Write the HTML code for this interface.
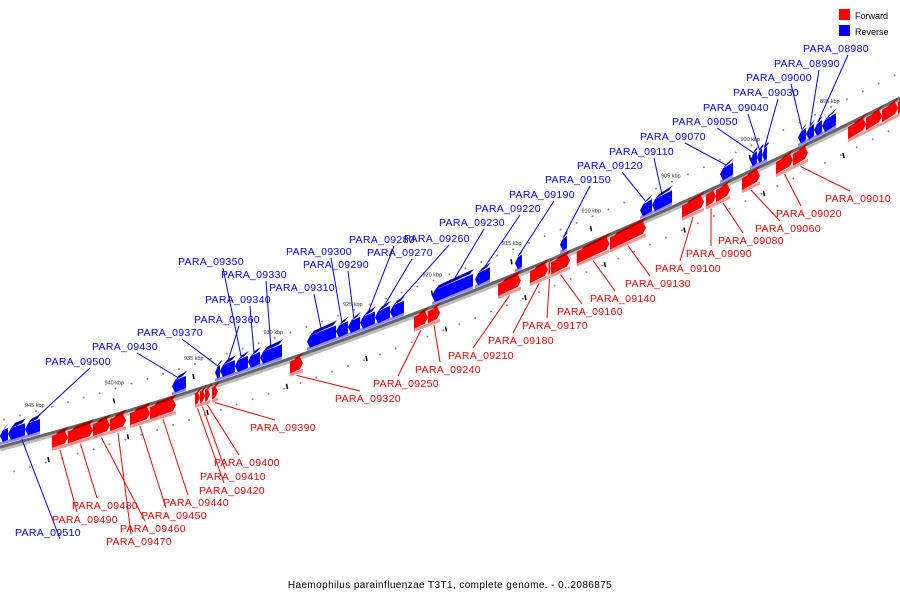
<!DOCTYPE html>
<html><head><meta charset="utf-8"><style>
html,body{margin:0;padding:0;background:#fff;}
svg{display:block;font-family:"Liberation Sans","DejaVu Sans",sans-serif;}
</style></head><body>
<svg id="map" width="900" height="600" viewBox="0 0 900 600">
<g id="ticks"></g>
<path id="backbone-shadow" fill="none" stroke="#bbb" stroke-width="5"/>
<path id="backbone" fill="none" stroke="#666" stroke-width="3"/>
<g id="leaders"></g>
<g id="genes"></g>
<g id="labels"></g>
<g>
<rect x="839" y="9" width="11" height="11" fill="#f00"/>
<text x="855" y="19" font-size="9" fill="#000">Forward</text>
<rect x="839" y="25" width="11" height="11" fill="#00f"/>
<text x="855" y="35" font-size="9" fill="#000">Reverse</text>
</g>
<text x="450" y="588" font-size="10" text-anchor="middle" fill="#000" letter-spacing="0.4">Haemophilus parainfluenzae T3T1, complete genome. - 0..2086875</text>
</svg>
<script>
const geneStart = [947.08,946.57,945.50, 936.26, 933.55,933.24,932.30,931.48,930.72, 927.77,925.94,925.19,924.43,923.49,922.55, 919.91,917.20, 914.69,911.86, 906.82,906.07, 901.79, 899.91,899.47,899.15, 896.89,896.38,895.88,895.38,
 943.81,942.80,941.23,940.16,938.90,937.64, 934.81,934.50,934.18,933.74, 928.84, 921.04,920.16, 915.75, 913.74,912.58,912.42, 910.80,908.71, 904.18,902.67,902.04, 900.41, 898.27,897.20, 893.74,892.61,891.60,890.60];
const geneEnd = [946.57,945.50,944.56, 935.38, 933.24,932.30,931.48,930.72,929.34, 925.94,925.19,924.43,923.49,922.55,921.67, 917.33,916.26, 914.25,911.42, 906.07,904.81, 900.97, 899.47,899.15,898.84, 896.38,895.88,895.38,894.50,
 942.80,941.23,940.16,939.15,937.64,936.01, 934.50,934.18,933.87,933.36, 928.02, 920.16,919.40, 914.31, 912.61,912.45,911.23, 908.74,906.45, 902.80,902.04,901.16, 899.28, 897.20,896.26, 892.61,891.60,890.60,890.10];
const geneStrand = [-1,-1,-1,-1,-1,-1,-1,-1,-1,-1,-1,-1,-1,-1,-1,-1,-1,-1,-1,-1,-1,-1,-1,-1,-1,-1,-1,-1,-1,
 1,1,1,1,1,1,1,1,1,1,1,1,1,1,1,1,1,1,1,1,1,1,1,1,1,1,1,1,1];
const geneLabel = ["","PARA_09510","PARA_09500","PARA_09430","PARA_09370","PARA_09360","PARA_09350","PARA_09340","PARA_09330","PARA_09310","PARA_09300","PARA_09290","PARA_09280","PARA_09270","PARA_09260","PARA_09230","PARA_09220","PARA_09190","PARA_09150","PARA_09120","PARA_09110","PARA_09070","PARA_09050","PARA_09040","PARA_09030","PARA_09000","PARA_08990","PARA_08980","",
 "PARA_09490","PARA_09480","PARA_09460","PARA_09470","PARA_09450","PARA_09440","PARA_09420","PARA_09410","PARA_09400","PARA_09390","PARA_09320","PARA_09250","PARA_09240","PARA_09210","PARA_09180","PARA_09170","PARA_09160","PARA_09140","PARA_09130","PARA_09100","PARA_09090","PARA_09080","PARA_09060","PARA_09020","PARA_09010","","","",""];
const labelX = [0,15,45,92,137,194,178,205,221,269,286,303,349,367,404,439,475,509,545,577,609,640,672,703,733,746,774,803,0,
 52,72,120,106,141,163,199,200,214,250,335,373,415,448,488,522,557,590,625,655,686,718,755,776,825,0,0,0,0];
const labelY = [0,536,365,350,336,323,265,303,278,291,255,268,243,256,242,226,212,198,183,169,155,140,125,111,96,81,67,52,0,
 523,509,532,545,519,506,494,480,466,431,402,387,373,359,344,329,315,302,287,272,257,244,232,217,202,0,0,0,0];
const tickKbp = [945,940,935,930,925,920,915,910,905,900,895];

const NS="http://www.w3.org/2000/svg";
function X(k){return 33+(945-k)*15.9;}
function Y(x){const t=x/900;return (1-t)*(1-t)*447+2*t*(1-t)*327.5+t*t*98;}
function mk(tag,attrs,parent){const e=document.createElementNS(NS,tag);for(const a in attrs)e.setAttribute(a,attrs[a]);parent.appendChild(e);return e;}
const d="M0 "+Y(0)+" Q450 327.5 900 "+Y(900);
document.getElementById('backbone').setAttribute('d',d);
const sh=document.getElementById('backbone-shadow');sh.setAttribute('d',d);sh.setAttribute('transform','translate(0,2)');

const tg=document.getElementById('ticks');
for(let k=889;k<=948;k++){
  const x=X(k),y=Y(x);
  if(x<-5||x>905)continue;
  const a=mk('circle',{cx:x+3,cy:y-27,r:1,fill:'#888'},tg);
  
  
  const b=mk('circle',{cx:x-3,cy:y+29,r:1,fill:'#888'},tg);
  
  
}
tickKbp.forEach(k=>{
  const x=X(k),y=Y(x);
  const l=mk('line',{x1:x+1,y1:y-17,x2:x+2,y2:y-12,stroke:'#000','stroke-width':1.5},tg);
  
  
  const l2=mk('line',{x1:x+15,y1:y+19,x2:x+16,y2:y+24,stroke:'#000','stroke-width':1.5},tg);
  
  
  const t=mk('text',{x:x-8,y:y-31,'font-size':5.5,fill:'#333'},tg);
  t.textContent=k+' kbp';
  
  
});

const gg=document.getElementById('genes'),lg=document.getElementById('leaders'),lb=document.getElementById('labels');
for(let i=0;i<geneStart.length;i++){
  let x1=X(geneStart[i]),x2=X(geneEnd[i]);
  if(x1>x2){const t=x1;x1=x2;x2=t;}
  const s=geneStrand[i];
  const o1=s<0?-17:3,o2=s<0?-5:15;
  const y1=Y(x1),y2=Y(x2);
  const a=Math.min(3,(x2-x1)/2);
  const col=s<0?['#0000b4','#0000ff','#8c8cff']:['#a00000','#ff0000','#ff9090'];
  const g=mk('g',{},gg);
  
  
  mk('polygon',{points:`${x1},${y1+o2} ${x2},${y2+o2} ${x2},${y2+o2+3} ${x1},${y1+o2+3}`,fill:col[2]},g);
  mk('polygon',{points:`${x1+a},${y1+o1} ${x2-a},${y2+o1} ${x2-a+4},${y2+o1-5} ${x1+a+4},${y1+o1-5}`,fill:col[0]},g);
  let pts;
  const m1=(o1+o2)/2;
  if(s>0) pts=`${x1},${y1+o1} ${x2-a},${y2+o1} ${x2},${y2+m1} ${x2-a},${y2+o2} ${x1},${y1+o2}`;
  else pts=`${x1+a},${y1+o1} ${x2},${y2+o1} ${x2},${y2+o2} ${x1+a},${y1+o2} ${x1},${y1+m1}`;
  mk('polygon',{points:pts,fill:col[1]},g);
  if(geneLabel[i]){
    const lx=labelX[i],ly=labelY[i],c=s<0?'#00f':'#f00';
    const gx=(x1+x2)/2,gy=Y(gx)+(s<0?o1:o2+4);
    let sx,sy;
    if(s<0){sx=lx+45;sy=ly+3;}
    else{sx=lx+25;sy=ly-11;}
    const ln=mk('line',{x1:sx,y1:sy,x2:gx,y2:gy,stroke:c,'stroke-width':1},lg);
    
    
    const t=mk('text',{x:lx,y:ly,'font-size':10.5,fill:c,'letter-spacing':0.3},lb);
    t.textContent=geneLabel[i];
    
    
  }
}
</script>
</body></html>
